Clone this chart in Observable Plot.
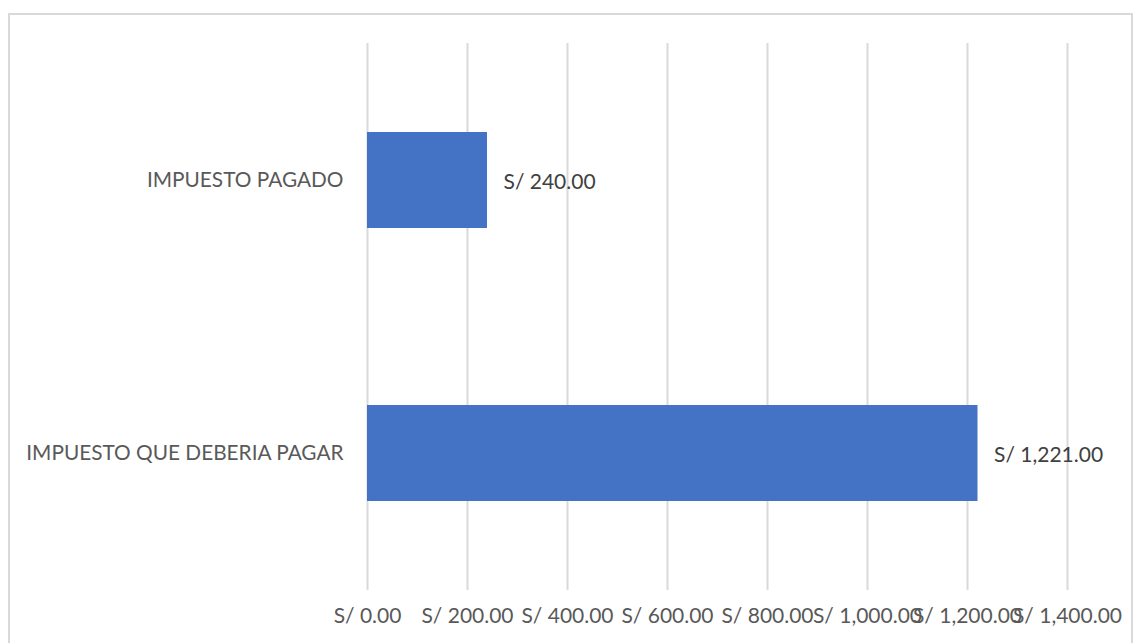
<!DOCTYPE html>
<html>
<head>
<meta charset="utf-8">
<script src="https://cdn.jsdelivr.net/npm/d3@7"></script>
<script src="https://cdn.jsdelivr.net/npm/@observablehq/plot@0.6"></script>
<style>
  html, body { margin: 0; padding: 0; background: #fff; }
  #wrap { position: relative; width: 1137px; height: 643px; overflow: hidden; }
  #border { position: absolute; left: 8px; top: 13px; width: 1125px; height: 640px; border: 2px solid #d9d9d9; box-sizing: border-box; }
  #chart { position: absolute; left: 0; top: 0; }
</style>
</head>
<body>
<div id="wrap"><div id="border"></div><div id="chart"></div></div>
<script>
const categories = ["IMPUESTO PAGADO", "IMPUESTO QUE DEBERIA PAGAR"];
const values = [240, 1221];
const xTicks = [0, 200, 400, 600, 800, 1000, 1200, 1400];

const data = categories.map((c, i) => ({category: c, value: values[i]}));
const fmt = v => "S/ " + d3.format(",.2f")(v);

const chart = Plot.plot({
  width: 1137,
  height: 643,
  marginLeft: 367,
  marginRight: 70,
  marginTop: 43,
  marginBottom: 53,
  style: {fontFamily: "Lato, 'Open Sans', sans-serif", fontSize: "20px", background: "transparent"},
  x: {domain: [0, 1400], ticks: xTicks, tickFormat: fmt, label: null},
  y: {domain: categories, paddingInner: 0.649, paddingOuter: 0.325, label: null},
  marks: [
    Plot.gridX(xTicks, {stroke: "#d9d9d9", strokeOpacity: 1, strokeWidth: 2}),
    Plot.barX(data, {y: "category", x: "value", fill: "#4472C4"}),
    Plot.text(data, {y: "category", x: "value", text: d => fmt(d.value), textAnchor: "start", dx: 16, dy: 2, fill: "#404040", fontSize: 21}),
    Plot.axisX({ticks: xTicks, tickFormat: fmt, tickSize: 0, tickPadding: 18, fill: "#595959", fontSize: 21, label: null}),
    Plot.axisY({tickSize: 0, tickPadding: 24, fill: "#595959", fontSize: 20.8, label: null})
  ]
});
document.getElementById("chart").appendChild(chart);
</script>
</body>
</html>
